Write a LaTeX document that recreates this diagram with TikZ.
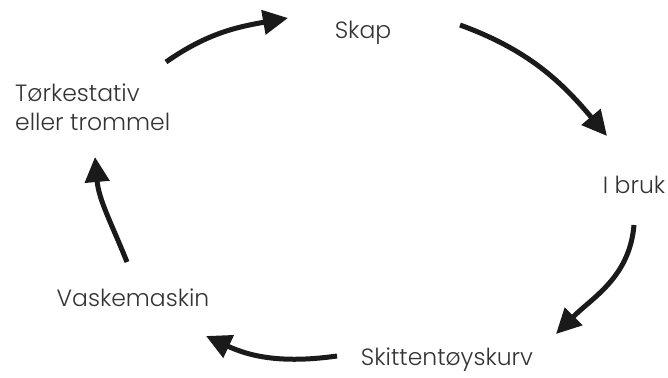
\documentclass[tikz,border=0pt]{standalone}
\usepackage{fontspec}
\setmainfont{Poppins Light}
\usetikzlibrary{arrows.meta}
\definecolor{txt}{HTML}{333333}
\definecolor{pil}{HTML}{1A1A1A}
\tikzset{
  stage/.style={text=txt, font=\fontsize{23.5}{29}\selectfont, inner sep=0pt},
  flow/.style={draw=pil, line width=5pt, -{Triangle[length=25pt,width=24pt]}}
}
\begin{document}
\begin{tikzpicture}[x=1pt,y=1pt]
\useasboundingbox (0,0) rectangle (668,-377);
\node[stage] (skap) at (363,-33) {Skap};
\node[stage] (bruk) at (634,-185) {I bruk};
\node[stage] (kurv) at (447,-360) {Skittentøyskurv};
\node[stage] (vask) at (133,-298) {Vaskemaskin};
\node[stage, align=left, anchor=north west] (tork) at (15,-84) {Tørkestativ\\eller trommel};

\coordinate (a1) at (166,-62);
\coordinate (b1) at (288,-18);
\coordinate (a2) at (460,-25);
\coordinate (b2) at (607,-136);
\coordinate (a3) at (634,-225);
\coordinate (b3) at (556,-334);
\coordinate (a4) at (337,-356);
\coordinate (b4) at (206,-336);
\coordinate (a5) at (127,-262);
\coordinate (b5) at (95,-157);

\draw [flow] (a1) to[out=35, in=190] (b1);
\draw [flow] (a2) to[out=-20, in=130] (b2);
\draw [flow] (a3) to[out=-95, in=45] (b3);
\draw [flow] (a4) to[out=188, in=-25] (b4);
\draw [flow] (a5) to[out=112, in=-85] (b5);

\end{tikzpicture}
\end{document}
